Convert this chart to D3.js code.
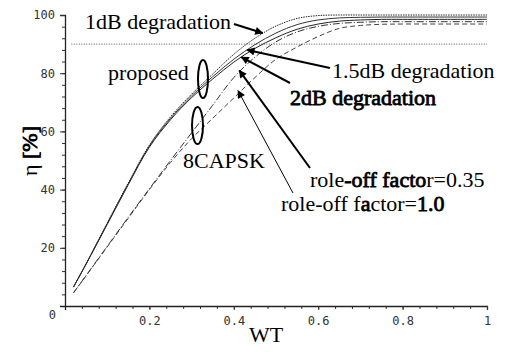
<!DOCTYPE html>
<html>
<head>
<meta charset="utf-8">
<script src="https://cdn.jsdelivr.net/npm/d3@7"></script>
<style>
  body { margin: 0; background: #fff; }
  .tick text { font-family: "DejaVu Sans Mono", monospace; font-size: 12px; fill: #333; }
  .note { font-family: "Liberation Serif", "Times New Roman", serif; font-size: 22px; fill: #000; }
  .bold { stroke: #000; stroke-width: 0.8px; }
</style>
</head>
<body>
<div id="chart"></div>
<script>
// WT sample points shared by all curves
const wt = [0.02, 0.05, 0.1, 0.15, 0.2, 0.25, 0.3, 0.35, 0.4, 0.45, 0.5, 0.55, 0.6, 0.65, 0.7, 0.75, 0.8, 0.9, 1.0];

// efficiency eta [%]
const prop1dB   = [6.5, 14.5, 28.5, 42.3, 55.3, 65, 72.8, 79.7, 86.5, 92, 96.2, 98.8, 99.8, 100, 100, 100, 100, 100, 100];
const prop15dB  = [6.5, 14.5, 28.3, 42, 55, 64.5, 72.2, 78.8, 84.8, 89.8, 93.8, 96.7, 98.3, 99, 99.2, 99.3, 99.3, 99.3, 99.3];
const prop2dB   = [6.5, 14.4, 28, 41.7, 54.6, 64, 71.6, 78, 83.8, 88.5, 92.2, 95.1, 96.9, 97.9, 98.3, 98.5, 98.5, 98.5, 98.5];
const roll035   = [4.5, 10.5, 20.5, 30.5, 40.3, 50, 59.5, 69, 78.5, 85.5, 90.8, 94.2, 96.1, 97.1, 97.5, 97.7, 97.7, 97.7, 97.7];
const roll10    = [4.5, 10.4, 20.3, 30.2, 40, 49.3, 57.5, 64.5, 71.5, 78.5, 84.8, 89, 92.6, 95.4, 96.4, 96.8, 96.9, 96.9, 96.9];

const xTicks = [0.2, 0.4, 0.6, 0.8, 1];
const yTicks = [20, 40, 60, 80, 100];
const refLine = 90;

const width = 508, height = 352;

const svg = d3.select("#chart").append("svg")
  .attr("width", width)
  .attr("height", height);

const x = d3.scaleLinear().domain([0, 1]).range([65, 487]);
const y = d3.scaleLinear().domain([0, 100]).range([306, 15]);

// minor ticks every 0.04 / 4 units
const xMinor = d3.range(0, 1.0001, 0.04);
const yMinor = d3.range(0, 100.001, 4);

svg.append("g")
  .attr("transform", "translate(0,306)")
  .call(d3.axisBottom(x).tickValues(xMinor).tickSize(3).tickFormat(""))
  .call(g => g.select(".domain").remove())
  .selectAll("line").attr("stroke", "#333");

svg.append("g")
  .attr("transform", "translate(65,0)")
  .call(d3.axisLeft(y).tickValues(yMinor).tickSize(3).tickFormat(""))
  .call(g => g.select(".domain").remove())
  .selectAll("line").attr("stroke", "#333");

const xAxis = svg.append("g")
  .attr("transform", "translate(0,306)")
  .call(d3.axisBottom(x).tickValues(xTicks).tickSize(4).tickPadding(6)
    .tickFormat(d => d === 1 ? "1" : d3.format(".1f")(d)));
xAxis.select(".domain").attr("stroke", "#222").attr("stroke-width", 1.3);
xAxis.selectAll("line").attr("stroke", "#333");

const yAxis = svg.append("g")
  .attr("transform", "translate(65,0)")
  .call(d3.axisLeft(y).tickValues(yTicks).tickSize(5).tickPadding(5));
yAxis.select(".domain").attr("stroke", "#222").attr("stroke-width", 1.3);
yAxis.selectAll("line").attr("stroke", "#333");

// the corner "0"
svg.append("text")
  .attr("x", 56).attr("y", 319)
  .attr("text-anchor", "end")
  .style("font-family", "DejaVu Sans Mono, monospace")
  .style("font-size", "12px").style("fill", "#333")
  .text("0");

// 90% reference line
svg.append("line")
  .attr("x1", x(0.015)).attr("x2", x(1))
  .attr("y1", y(refLine)).attr("y2", y(refLine))
  .attr("stroke", "#555").attr("stroke-width", 1)
  .attr("stroke-dasharray", "1,1.5");

const series = [
  { vals: roll10,   dash: "5,3",     color: "#444" },
  { vals: roll035,  dash: "7,2,1,2", color: "#333" },
  { vals: prop2dB,  dash: null,      color: "#222" },
  { vals: prop15dB, dash: null,      color: "#333" },
  { vals: prop1dB,  dash: "1.5,1",   color: "#222" }
];

const line = d3.line()
  .x(d => x(d[0]))
  .y(d => y(d[1]))
  .curve(d3.curveCatmullRom.alpha(0.5));

svg.selectAll("path.curve")
  .data(series)
  .enter().append("path")
  .attr("class", "curve")
  .attr("d", s => line(wt.map((w, i) => [w, s.vals[i]])))
  .attr("fill", "none")
  .attr("stroke", s => s.color)
  .attr("stroke-width", 1)
  .attr("stroke-dasharray", s => s.dash);

// arrowheads
svg.append("defs").append("marker")
  .attr("id", "head")
  .attr("viewBox", "0 0 10 10")
  .attr("refX", 9).attr("refY", 5)
  .attr("markerWidth", 10).attr("markerHeight", 8)
  .attr("markerUnits", "userSpaceOnUse")
  .attr("orient", "auto")
  .append("path").attr("d", "M0,0L10,5L0,10Z").attr("fill", "#000");

// annotation arrows: [from px, to data point]
const arrows = [
  { x1: 234, y1: 24,  to: [0.468, 93.8], w: 2 },
  { x1: 330, y1: 68,  to: [0.432, 88.0], w: 2 },
  { x1: 290, y1: 83,  to: [0.418, 85.5], w: 2 },
  { x1: 310, y1: 168, to: [0.413, 81.0], w: 2 },
  { x1: 293, y1: 193, to: [0.41,  74.0], w: 1 }
];
svg.selectAll("line.arrow")
  .data(arrows)
  .enter().append("line")
  .attr("class", "arrow")
  .attr("x1", d => d.x1).attr("y1", d => d.y1)
  .attr("x2", d => x(d.to[0])).attr("y2", d => y(d.to[1]))
  .attr("stroke", "#000").attr("stroke-width", d => d.w)
  .attr("marker-end", "url(#head)");

// ellipses marking the groups
svg.append("ellipse").attr("cx", x(0.327)).attr("cy", y(78))
  .attr("rx", 5).attr("ry", 19)
  .attr("fill", "none").attr("stroke", "#000").attr("stroke-width", 2);
svg.append("ellipse").attr("cx", x(0.314)).attr("cy", y(62))
  .attr("rx", 5.5).attr("ry", 18.5)
  .attr("fill", "none").attr("stroke", "#000").attr("stroke-width", 2);

// text notes
const notes = [
  { t: "1dB degradation", x: 85, y: 29 },
  { t: "1.5dB degradation", x: 332, y: 78 },
  { t: "proposed", x: 108, y: 80 },
  { t: "8CAPSK", x: 183, y: 168 }
];
svg.selectAll("text.note")
  .data(notes)
  .enter().append("text")
  .attr("class", "note")
  .attr("x", d => d.x).attr("y", d => d.y)
  .text(d => d.t);

svg.append("text").attr("class", "note bold")
  .attr("x", 290).attr("y", 105)
  .text("2dB degradation");

const r1 = svg.append("text").attr("class", "note").attr("x", 310).attr("y", 187);
r1.append("tspan").text("role");
r1.append("tspan").attr("class", "bold").text("-off facto");
r1.append("tspan").text("r=0.35");

const r2 = svg.append("text").attr("class", "note").attr("x", 281).attr("y", 211);
r2.append("tspan").text("role-off f");
r2.append("tspan").attr("class", "bold").text("a");
r2.append("tspan").text("ctor=");
r2.append("tspan").attr("class", "bold").text("1.0");

// axis titles
svg.append("text").attr("class", "note")
  .attr("x", 266).attr("y", 342)
  .attr("text-anchor", "middle")
  .text("WT");

const yl = svg.append("text").attr("class", "note")
  .attr("transform", "translate(37,151) rotate(-90)")
  .attr("text-anchor", "middle");
yl.append("tspan").text("η ");
yl.append("tspan").attr("class", "bold").text("[%]");
</script>
</body>
</html>
